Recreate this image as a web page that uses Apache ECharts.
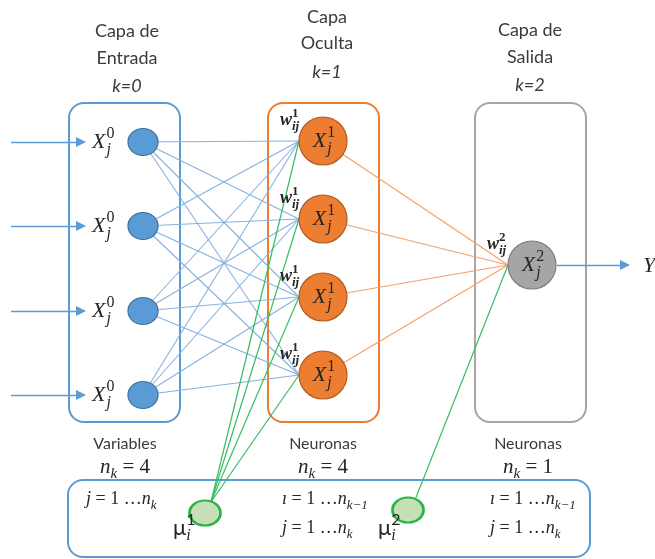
<!DOCTYPE html>
<html><head><meta charset="utf-8">
<script src="https://cdn.jsdelivr.net/npm/echarts@6/dist/echarts.min.js"></script>
<style>html,body{margin:0;padding:0;background:#fff}#c{width:655px;height:559px}</style>
</head><body><div id="c"></div>
<script>
// ------------------- DATA -------------------
const layerTitles = [['Capa de', 'Entrada'], ['Capa', 'Oculta'], ['Capa de', 'Salida']];
const layerK = [0, 1, 2];
const layerUnits = ['Variables', 'Neuronas', 'Neuronas'];
const layerCounts = [4, 4, 1];
const biasLayers = [1, 2];          // layers that receive a bias node μ
const outputName = 'Y';
const indexRanges = [
  [['j', 'k']],
  [['ı', 'k−1'], ['j', 'k']],
  [['ı', 'k−1'], ['j', 'k']]
];

// ------------------- LAYOUT (pixel space of the hidden axes) -------------------
const layout = {
  colX: [143, 323, 532],
  boxX: [[69, 180], [268, 379], [475, 586]],
  boxY: [103, 422],
  nodeY: [[142, 226, 311, 395], [141, 219, 297, 375], [265]],
  nodeR: [15, 24, 24],
  titleCX: [127, 327, 530],
  titleY: [[31, 58, 86], [17, 43, 72], [30, 57, 85]],
  unitCX: [125, 323, 528],
  unitY: [444, 467],
  bottomBox: [68, 480, 590, 557],
  rangeX: [86, 282, 490],
  rangeY: [499, 528],
  biasXY: [[205, 513], [408, 510]],
  biasTop: [[211, 502], [415, 500]],
  biasLabelX: [173, 378],
  biasLabelY: 528,
  inputArrowX: [11, 81],
  inputLabelX: 92,
  outArrowX: [557, 625],
  outLabelX: 643
};

const SANS = 'Lato, "Open Sans", sans-serif';
const SERIF = '"Liberation Serif", "DejaVu Serif", serif';
const TXT = '#3b3b3b';
const MATH = '#262626';

// ------------------- MATH TEXT HELPER -------------------
const mctx = document.createElement('canvas').getContext('2d');
function tw(text, font) { mctx.font = font; return mctx.measureText(text).width; }
function fontOf(p) { return (p.it ? 'italic ' : 'normal ') + (p.b ? 'bold ' : 'normal ') + p.size + 'px ' + p.f; }
function buildMath(parts, x, y, o) {
  const s = o.size, fam = o.family || SERIF, col = o.color || MATH;
  const ss = Math.round(s * (o.scriptScale || 0.72));
  const items = [];
  let cx = 0;
  parts.forEach(p => {
    if (p.t !== undefined) {
      const it = { text: p.t, size: s, it: p.it, b: p.b || o.bold, f: p.f || fam, dx: cx, dy: 0 };
      items.push(it); cx += tw(it.text, fontOf(it)) + (p.gap || 0);
    } else {
      let w = 0;
      const sx = cx + (p.dx || 0);
      if (p.sup !== undefined) {
        const it = { text: p.sup, size: ss, it: p.supIt, b: p.b || o.bold, f: p.sf || fam, dx: sx + (p.supDx || 0), dy: -s * 0.36 };
        items.push(it); w = Math.max(w, tw(it.text, fontOf(it)) + (p.dx || 0) + (p.supDx || 0));
      }
      if (p.sub !== undefined) {
        const it = { text: p.sub, size: ss, it: p.subIt !== false, b: p.b || o.bold, f: fam, dx: sx, dy: s * 0.36 };
        items.push(it); w = Math.max(w, tw(it.text, fontOf(it)) + (p.dx || 0));
      }
      cx += w;
    }
  });
  const x0 = o.align === 'center' ? x - cx / 2 : x;
  return items.map(it => ({
    type: 'text', x: x0 + it.dx, y: y + it.dy,
    style: { text: it.text, font: fontOf(it), fill: col, align: 'left', verticalAlign: 'middle' }
  }));
}

// ------------------- BUILD SPECS -------------------
const L = layout;
const labelSpecs = [];
// titles
layerTitles.forEach((lines, li) => {
  lines.forEach((t, r) => labelSpecs.push({ x: L.titleCX[li], y: L.titleY[li][r], parts: [{ t: t }], o: { size: 18, family: SANS, color: TXT, align: 'center' } }));
  labelSpecs.push({ x: L.titleCX[li], y: L.titleY[li][2], parts: [{ t: 'k=' + layerK[li], it: true }], o: { size: 18, family: SANS, color: TXT, align: 'center' } });
});
// unit labels
layerUnits.forEach((u, li) => {
  labelSpecs.push({ x: L.unitCX[li], y: L.unitY[0], parts: [{ t: u }], o: { size: 16, family: SANS, color: TXT, align: 'center' } });
  labelSpecs.push({ x: L.unitCX[li], y: L.unitY[1], parts: [{ t: 'n', it: true }, { sub: 'k' }, { t: ' = ' + layerCounts[li] }], o: { size: 21, align: 'center' } });
});
// node labels
layerCounts.forEach((n, li) => {
  for (let i = 0; i < n; i++) {
    const y = L.nodeY[li][i];
    const parts = [{ t: 'X', it: true }, { sup: String(layerK[li]), sub: 'j', dx: 1 }];
    if (li === 0) labelSpecs.push({ x: L.inputLabelX, y: y, parts, o: { size: 22 } });
    else labelSpecs.push({ x: L.colX[li] + 1, y: y, parts, o: { size: 22, align: 'center' } });
    if (li > 0) {
      labelSpecs.push({ x: L.colX[li] - L.nodeR[li] - 19, y: y - 21, parts: [{ t: 'w', it: true }, { sup: String(layerK[li]), sub: 'ij', dx: 0 }], o: { size: 18, bold: true, align: 'left' } });
    }
  }
});
labelSpecs[labelSpecs.length - 1].x -= 2;
// output
labelSpecs.push({ x: L.outLabelX, y: L.nodeY[2][0] + 1, parts: [{ t: outputName, it: true }], o: { size: 22 } });
// bias labels
biasLayers.forEach((k, bi) => {
  labelSpecs.push({ x: L.biasLabelX[bi], y: L.biasLabelY, parts: [{ t: 'μ', f: SANS }, { sup: String(k), sub: 'i', sf: SANS }], o: { size: 22 } });
});
// index ranges inside bottom box
indexRanges.forEach((rows, li) => {
  rows.forEach((r, ri) => {
    const y = rows.length === 1 ? L.rangeY[0] : L.rangeY[ri];
    labelSpecs.push({ x: L.rangeX[li], y: y, parts: [{ t: r[0], it: true }, { t: ' = 1 …' }, { t: 'n', it: true }, { sub: r[1] }], o: { size: 18 } });
  });
});

// boxes
const boxSpecs = [
  { x1: L.boxX[0][0], y1: L.boxY[0], x2: L.boxX[0][1], y2: L.boxY[1], c: '#5b9bd5' },
  { x1: L.boxX[1][0], y1: L.boxY[0], x2: L.boxX[1][1], y2: L.boxY[1], c: '#ed7d31' },
  { x1: L.boxX[2][0], y1: L.boxY[0], x2: L.boxX[2][1], y2: L.boxY[1], c: '#a6a6a6' },
  { x1: L.bottomBox[0], y1: L.bottomBox[1], x2: L.bottomBox[2], y2: L.bottomBox[3], c: '#5b9bd5' }
];

// connections
const blueLines = [], orangeLines = [], greenLines = [];
L.nodeY[0].forEach(y0 => L.nodeY[1].forEach(y1 => blueLines.push({ coords: [[L.colX[0], y0], [L.colX[1] - L.nodeR[1], y1]] })));
const outIn = [L.colX[2] - L.nodeR[2], L.nodeY[2][0]];
L.nodeY[1].forEach(y1 => orangeLines.push({ coords: [[L.colX[1], y1], outIn] }));
L.nodeY[1].forEach(y1 => greenLines.push({ coords: [L.biasTop[0], [L.colX[1] - L.nodeR[1], y1]] }));
greenLines.push({ coords: [L.biasTop[1], outIn] });
const arrowLines = L.nodeY[0].map(y => ({ coords: [[L.inputArrowX[0], y], [L.inputArrowX[1], y]] }));
arrowLines.push({ coords: [[L.outArrowX[0], L.nodeY[2][0]], [L.outArrowX[1], L.nodeY[2][0]]] });

const chart = echarts.init(document.getElementById('c'), null, { renderer: 'canvas' });
chart.setOption({
  animation: false,
  grid: { left: 0, right: 0, top: 0, bottom: 0 },
  xAxis: { type: 'value', min: 0, max: 655, show: false },
  yAxis: { type: 'value', min: 0, max: 559, inverse: true, show: false },
  series: [
    {
      type: 'custom', z: 1, clip: false,
      data: boxSpecs.map((b, i) => [b.x1, b.y1]),
      renderItem: (params, api) => {
        const b = boxSpecs[params.dataIndex];
        const p1 = api.coord([b.x1, b.y1]), p2 = api.coord([b.x2, b.y2]);
        return { type: 'rect', shape: { x: p1[0], y: p1[1], width: p2[0] - p1[0], height: p2[1] - p1[1], r: 15 }, style: { fill: 'none', stroke: b.c, lineWidth: 2 } };
      }
    },
    { type: 'lines', coordinateSystem: 'cartesian2d', z: 2, data: blueLines, lineStyle: { color: '#86b1e0', width: 1.1, opacity: 1 } },
    { type: 'lines', coordinateSystem: 'cartesian2d', z: 2, data: orangeLines, lineStyle: { color: '#f4a06a', width: 1.2, opacity: 1 } },
    { type: 'lines', coordinateSystem: 'cartesian2d', z: 2, data: greenLines, lineStyle: { color: '#34bd62', width: 1.2, opacity: 1 } },
    { type: 'lines', coordinateSystem: 'cartesian2d', z: 2, data: arrowLines, symbol: ['none', 'triangle'], symbolSize: 10, lineStyle: { color: '#5b9bd5', width: 1.3, opacity: 1 } },
    {
      type: 'scatter', z: 3, symbol: 'circle', symbolSize: [30, 27],
      data: L.nodeY[0].map(y => [L.colX[0], y]),
      itemStyle: { color: '#5b9bd5', borderColor: '#41719c', borderWidth: 1.2, opacity: 1 }
    },
    {
      type: 'scatter', z: 3, symbol: 'circle', symbolSize: 48,
      data: L.nodeY[1].map(y => [L.colX[1], y]),
      itemStyle: { color: '#ed7d31', borderColor: '#ae5a21', borderWidth: 1.2, opacity: 1 }
    },
    {
      type: 'scatter', z: 3, symbol: 'circle', symbolSize: 48,
      data: L.nodeY[2].map(y => [L.colX[2], y]),
      itemStyle: { color: '#a5a5a5', borderColor: '#7f7f7f', borderWidth: 1.2, opacity: 1 }
    },
    {
      type: 'scatter', z: 3, symbol: 'circle', symbolSize: [31, 25],
      data: L.biasXY,
      itemStyle: { color: '#c5e0b4', borderColor: '#2db34a', borderWidth: 2.5, opacity: 1 }
    },
    {
      type: 'custom', z: 4, clip: false,
      data: labelSpecs.map(s => [s.x, s.y]),
      renderItem: (params, api) => {
        const s = labelSpecs[params.dataIndex];
        const p = api.coord([s.x, s.y]);
        return { type: 'group', children: buildMath(s.parts, p[0], p[1], s.o) };
      }
    }
  ]
});
</script></body></html>
